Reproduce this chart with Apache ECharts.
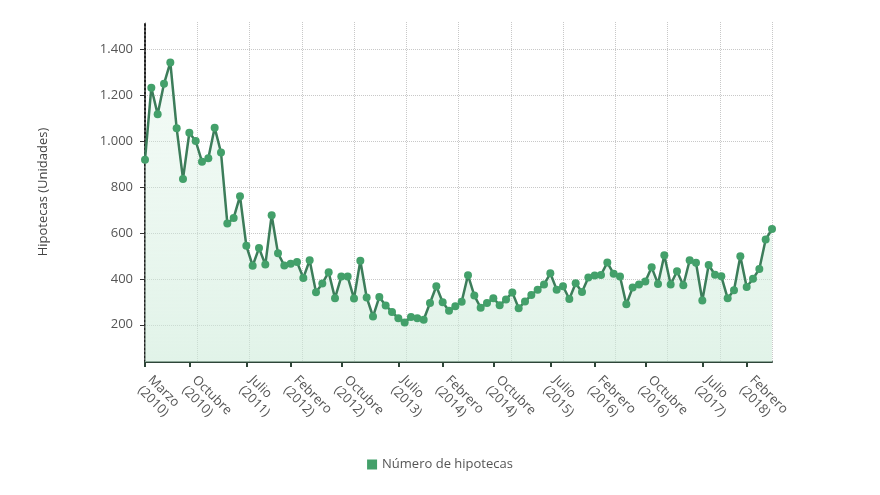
<!DOCTYPE html>
<html>
<head>
<meta charset="utf-8">
<script src="https://cdn.jsdelivr.net/npm/echarts@6/dist/echarts.min.js"></script>
<style>html,body{margin:0;padding:0;background:#fff}#c{width:880px;height:495px}</style>
</head>
<body>
<div id="c"></div>
<script>
// Monthly mortgages, March 2010 – June 2018
const monthNames = ['Enero','Febrero','Marzo','Abril','Mayo','Junio','Julio','Agosto','Septiembre','Octubre','Noviembre','Diciembre'];
const startYear = 2010;
const startMonth = 2; // March (0-based)
const values = [
  918,1232,1116,1249,1342,1055,835,1036,1000,910,
  925,1058,950,641,665,760,544,457,534,462,
  677,511,458,466,473,404,481,342,380,429,
  316,410,410,314,479,319,236,321,284,256,
  228,210,234,228,222,295,368,298,261,281,
  300,416,327,274,295,316,285,310,341,272,
  301,330,353,375,424,353,368,312,381,343,
  406,415,417,471,422,410,289,362,375,388,
  450,378,503,375,433,372,481,470,306,460,
  418,411,315,350,498,364,400,443,571,617
];
const labelledIdx = [0,7,16,23,31,40,47,55,64,71,79,88,95];
const yTicks = [200,400,600,800,1000,1200,1400];

const categories = values.map((v, i) => {
  const m = startMonth + i;
  return monthNames[m % 12] + '\n(' + (startYear + Math.floor(m / 12)) + ')';
});

const chart = echarts.init(document.getElementById('c'), null, {renderer: 'canvas'});
const font = '"Open Sans", sans-serif';
chart.setOption({
  animation: false,
  textStyle: {fontFamily: font},
  grid: {left: 145, right: 108, top: 22, bottom: 133, containLabel: false},
  legend: {
    data: ['Número de hipotecas'],
    left: 'center', top: 453,
    icon: 'rect', itemWidth: 10, itemHeight: 10, itemGap: 6,
    textStyle: {color: '#555', fontSize: 13, fontFamily: font}
  },
  xAxis: [{
    type: 'category',
    data: categories,
    boundaryGap: false,
    axisLine: {lineStyle: {color: '#2e4538', width: 2}},
    axisTick: {show: true, interval: (i) => labelledIdx.includes(i), length: 5, lineStyle: {color: '#2e4538', width: 2}},
    axisLabel: {interval: (i) => labelledIdx.includes(i), rotate: -45, color: '#555', fontSize: 13, fontFamily: font,
      margin: 21, lineHeight: 14.5, showMinLabel: true, showMaxLabel: true, hideOverlap: false},
    splitLine: {show: false}
  }, {
    type: 'value', min: 0, max: 12, interval: 1, position: 'bottom',
    axisLine: {show: false}, axisTick: {show: false}, axisLabel: {show: false},
    splitLine: {show: true, lineStyle: {color: '#c8c8c8', type: 'dotted', width: 1}}
  }],
  yAxis: {
    type: 'value', min: 38, max: 1518,
    name: 'Hipotecas (Unidades)', nameLocation: 'middle', nameGap: 95,
    nameTextStyle: {color: '#444', fontSize: 13, fontFamily: font},
    axisLine: {show: true, lineStyle: {color: '#222', width: 2, type: 'dotted'}},
    axisTick: {show: true, customValues: yTicks, length: 5, lineStyle: {color: '#333'}},
    axisLabel: {customValues: yTicks, color: '#555', fontSize: 13, fontFamily: font, margin: 12,
      formatter: (v) => String(v).replace(/\B(?=(\d{3})+(?!\d))/g, '.')},
    splitLine: {show: true, lineStyle: {color: '#c8c8c8', type: 'dotted', width: 1}}
  },
  series: [{
    name: 'Número de hipotecas',
    type: 'line',
    data: values,
    xAxisIndex: 0,
    symbol: 'circle', symbolSize: 8,
    showSymbol: true, showAllSymbol: true,
    itemStyle: {color: '#43a06a'},
    lineStyle: {color: '#3c7d5a', width: 2.5},
    areaStyle: {
      color: new echarts.graphic.LinearGradient(0, 0, 0, 1, [
        {offset: 0, color: 'rgba(210,238,222,0.35)'},
        {offset: 1, color: 'rgba(205,235,217,0.85)'}
      ])
    }
  }]
});
</script>
</body>
</html>
